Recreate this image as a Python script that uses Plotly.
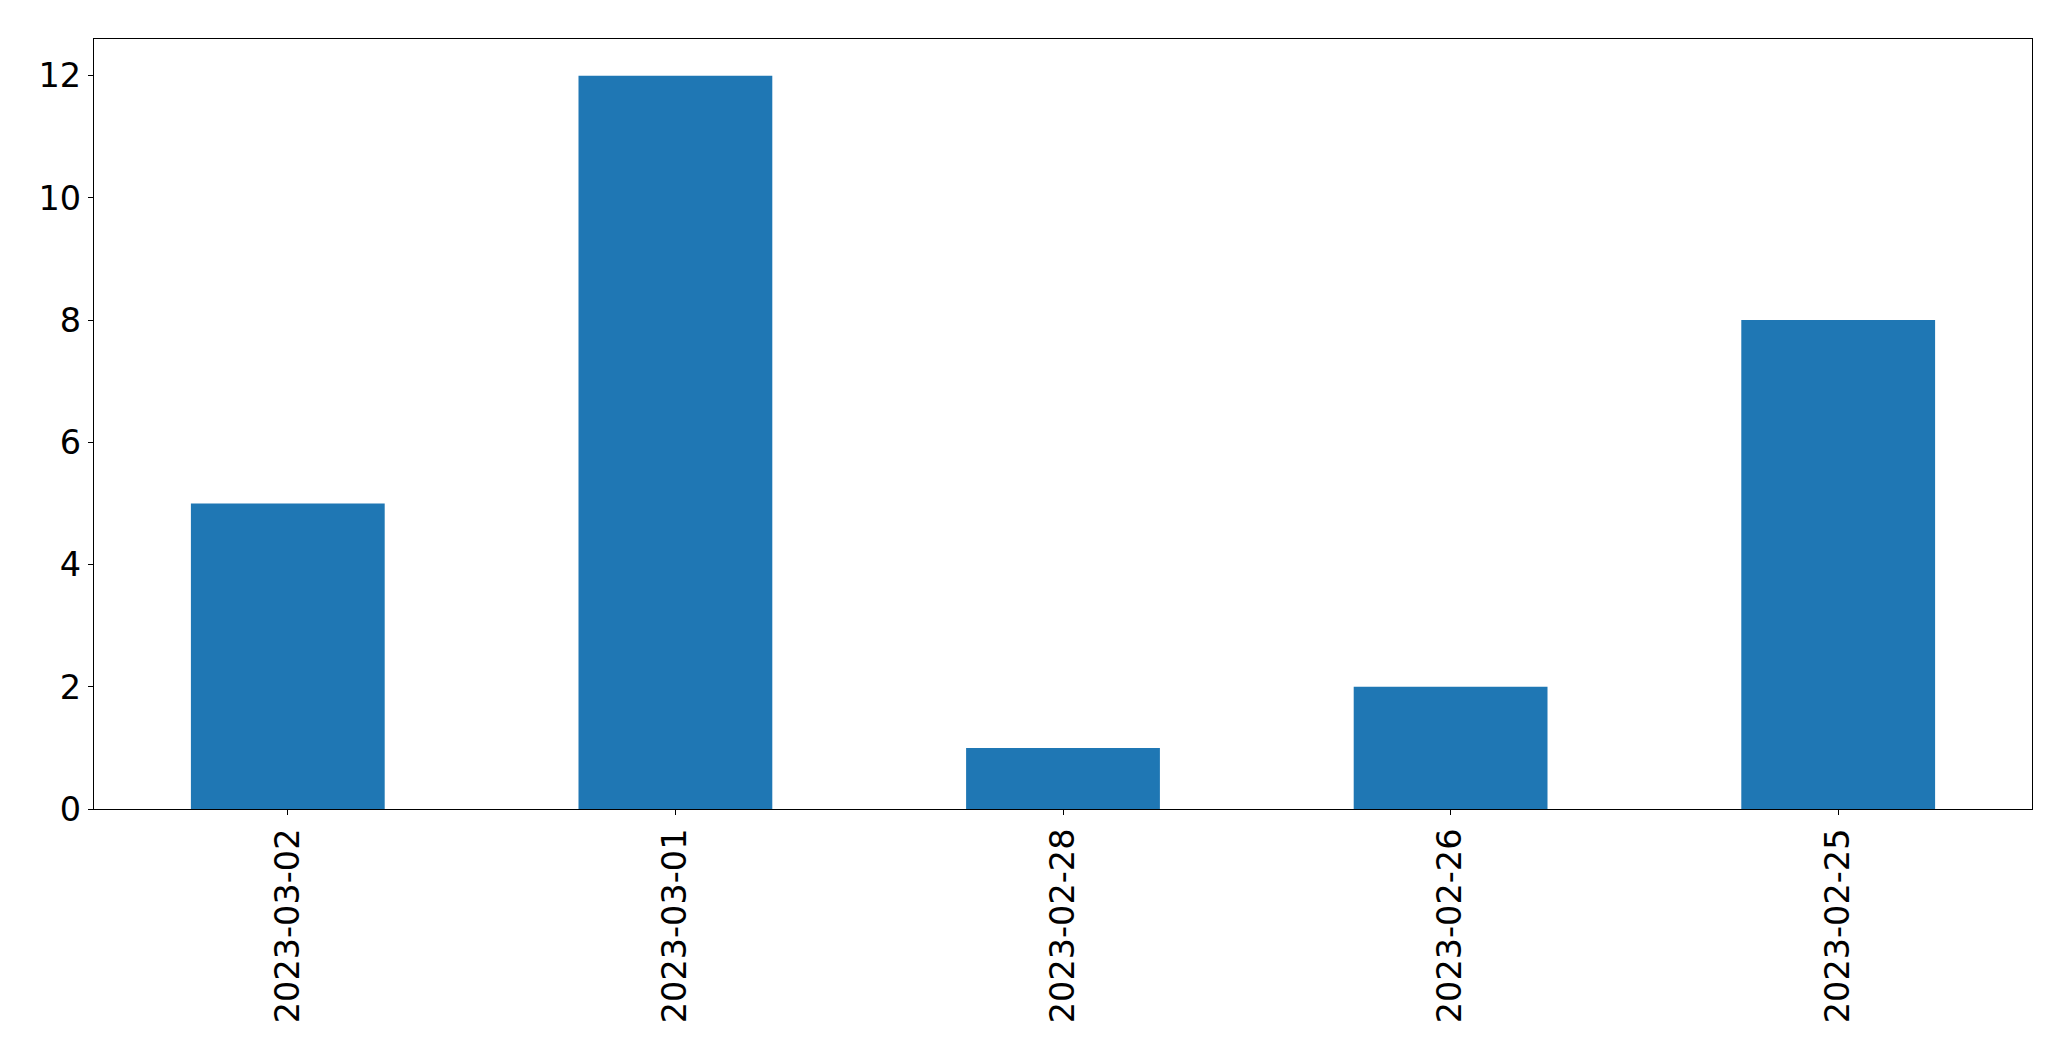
import plotly.graph_objects as go

categories = ["2023-03-02", "2023-03-01", "2023-02-28", "2023-02-26", "2023-02-25"]
values = [5, 12, 1, 2, 8]
y_ticks = [0, 2, 4, 6, 8, 10, 12]

fig = go.Figure(go.Bar(x=categories, y=values, marker=dict(color="#1f77b4", line=dict(width=0)), width=0.5))

font = dict(family="DejaVu Sans", size=33.5, color="black")
fig.update_layout(
    width=2071, height=1061,
    margin=dict(l=94, r=39, t=39, b=252, pad=0),
    paper_bgcolor="white", plot_bgcolor="white",
    font=font, showlegend=False,
    bargap=0.5,
)
fig.update_xaxes(
    type="category", range=[-0.5, 4.5], tickangle=-90,
    showline=True, linecolor="black", linewidth=1.3, mirror=True,
    ticks="outside", ticklen=5, tickwidth=1.3, tickcolor="black",
    showgrid=False, zeroline=False, tickfont=font, automargin=False,
)
fig.update_yaxes(
    range=[0, 12.6], tickvals=y_ticks, ticktext=[str(v) for v in y_ticks],
    showline=True, linecolor="black", linewidth=1.3, mirror=True,
    ticks="outside", ticklen=5, tickwidth=1.3, tickcolor="black",
    showgrid=False, zeroline=False, tickfont=font, automargin=False,
)
fig.write_html(
    "out.html",
    config={"displayModeBar": False},
    post_script="document.body.style.margin='0';document.body.style.overflow='hidden';",
)
